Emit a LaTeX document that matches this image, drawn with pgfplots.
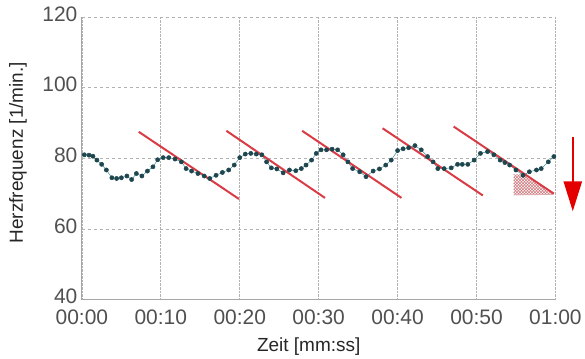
\documentclass[border=0pt]{standalone}
\usepackage{pgfplots}
\pgfplotsset{compat=1.18}
\usepackage{fontspec}
\setmainfont{Liberation Sans}
\usetikzlibrary{patterns,arrows.meta}
\definecolor{dotc}{RGB}{30,70,78}
\definecolor{linec}{RGB}{70,140,150}
\definecolor{redl}{RGB}{218,60,70}
\definecolor{tickc}{RGB}{80,80,80}
\begin{document}
\begin{tikzpicture}
\begin{axis}[
  width=474pt, height=283pt, scale only axis,
  xmin=0, xmax=60, ymin=40, ymax=120,
  xtick={0,10,20,30,40,50,60},
  xticklabels={00:00,00:10,00:20,00:30,00:40,00:50,01:00},
  ytick={40,60,80,100,120},
  axis x line=bottom, axis y line=left,
  axis line style={gray!70, line width=1pt, -},
  major tick length=0pt,
  grid=major,
  x grid style={gray!60, densely dotted, line width=0.8pt},
  y grid style={gray!60, dashed, line width=0.8pt},
  tick label style={font=\fontsize{21}{21}\selectfont, text=tickc},
  /pgf/number format/assume math mode=true,
  xticklabel style={yshift=-7pt},
  yticklabel style={xshift=-1pt, yshift=3pt},
  xlabel={Zeit [mm:ss]},
  ylabel={Herzfrequenz [1/min.]},
  label style={font=\fontsize{19}{19}\selectfont, text=black!85},
  xlabel style={at={(axis description cs:0.479,-0.166)}, anchor=center},
  ylabel style={at={(axis description cs:-0.135,0.52)}, anchor=center},
  clip=false,
]
\addplot[draw=none, pattern=crosshatch, pattern color=redl!70!gray] coordinates {
 (54.7,69.5) (54.7,75.5) (56.0,75.4) (59.8,69.7) } -- cycle;
\addplot[linec, line width=0.5pt, mark=*, mark size=2.1pt, mark options={fill=dotc, draw=dotc}] coordinates {
(0.3,81.0)(0.9,80.9)(1.4,80.6)(1.9,79.5)(2.5,78.3)(3.1,76.7)(3.8,74.5)(4.4,74.3)(5.0,74.5)
(5.7,75.0)(6.3,74.0)(6.9,75.7)(7.6,75.0)(8.3,76.4)(9.0,77.6)(9.6,79.6)(10.3,80.2)
(11.0,80.2)(11.8,79.8)(12.6,79.0)(13.2,77.1)(13.9,76.4)(14.7,75.7)(15.5,75.0)(16.2,74.3)
(17.0,75.2)(17.8,76.0)(18.6,76.7)(19.3,78.1)(20.0,80.2)(20.7,81.2)(21.4,81.4)(22.1,81.2)
(22.8,81.0)(23.4,79.0)(24.0,77.3)(24.7,77.0)(25.5,75.9)(26.3,76.7)(27.1,76.5)(27.8,77.1)
(28.4,78.1)(29.1,79.5)(29.7,81.4)(30.3,82.4)(31.0,82.4)(31.7,82.6)(32.4,82.4)(33.1,81.0)
(33.7,79.0)(34.3,77.1)(35.2,76.2)(36.0,74.8)(36.9,76.4)(37.7,77.0)(38.5,78.1)(39.2,79.5)
(40.0,82.2)(40.7,82.7)(41.4,83.0)(42.2,83.6)(43.0,82.4)(43.8,80.5)(44.5,79.0)(45.1,77.1)
(45.9,77.1)(46.8,77.3)(47.6,78.3)(48.2,78.3)(48.9,78.3)(49.7,79.5)(50.5,81.4)(51.4,81.9)
(52.2,81.0)(53.0,79.5)(53.6,78.8)(54.2,78.1)(55.0,76.7)(55.9,75.2)(56.7,76.2)(57.6,76.7)
(58.2,77.1)(59.1,79.0)(59.8,80.5)
};
\addplot[redl, line width=2pt] coordinates {(7.2,87.5)(19.9,68.5)};
\addplot[redl, line width=2pt] coordinates {(18.3,87.8)(30.8,68.8)};
\addplot[redl, line width=2pt] coordinates {(27.9,87.8)(40.5,68.8)};
\addplot[redl, line width=2pt] coordinates {(38.1,88.5)(50.8,69.5)};
\addplot[redl, line width=2pt] coordinates {(47.1,89.0)(59.8,70.0)};
\draw[red!90!black, line width=2.5pt, -{Triangle[width=18pt,length=30pt]}] (axis cs:62.2,86) -- (axis cs:62.2,65);
\end{axis}
\path (current axis.north west) ++(-82pt,17pt) coordinate (bbA);
\path (current axis.south east) ++(29pt,-55pt) coordinate (bbB);
\useasboundingbox (bbA) rectangle (bbB);
\end{tikzpicture}
\end{document}
